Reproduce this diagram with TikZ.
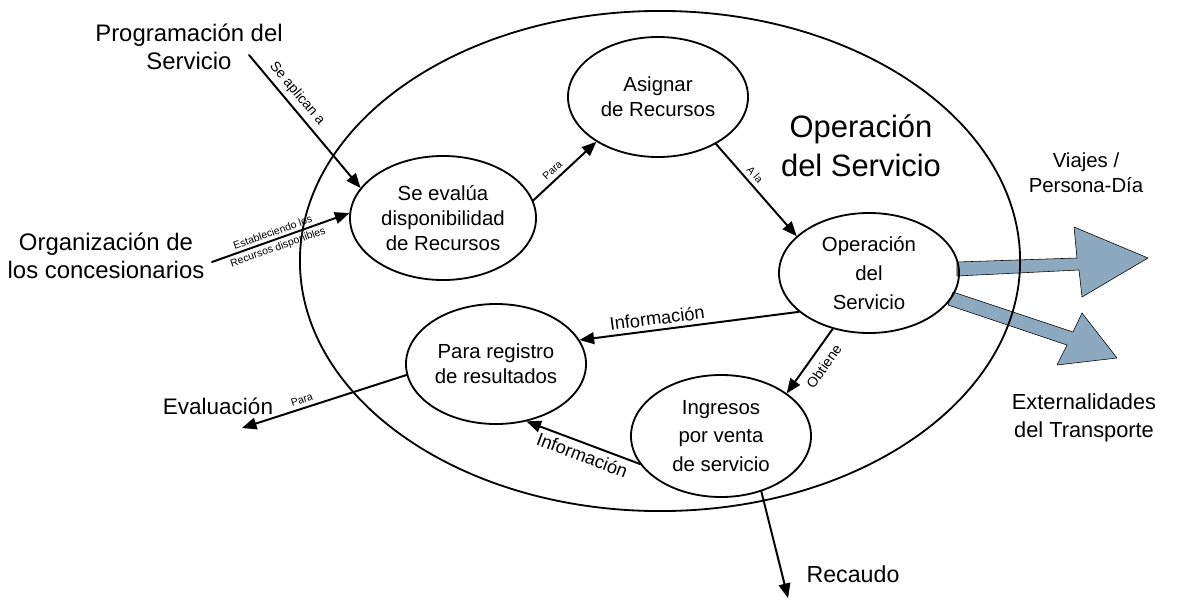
\documentclass[tikz,border=0pt]{standalone}
\usepackage{fontspec}
\setmainfont{Liberation Sans}
\usepackage{tikz}
\usetikzlibrary{arrows}
\usetikzlibrary{shapes.geometric}
\definecolor{ggaabb}{rgb}{0.553,0.663,0.749}
\tikzstyle{every node}=[font=\fontsize{14.5}{18}\selectfont]

\begin{document}
\begin{tikzpicture}[line cap=round,line join=round,>=triangle 45,x=0.025cm,y=-0.025cm,
    elipse/.style={ellipse,draw,line width=1.3pt,align=center,inner sep=0pt,minimum width=4.5cm,minimum height=3cm},
    flecha/.style={->,line width=1.4pt},
    etiqueta/.style={font=\fontsize{7.5}{8}\selectfont,midway,sloped,inner sep=3pt}]
    \useasboundingbox (0,0) rectangle (1190,605);
    % flechas anchas
    \filldraw[fill=ggaabb,draw=black,line width=0.4pt] (957,262) -- (1077,258) -- (1074,227) -- (1148,258) -- (1082,297) -- (1079,270) -- (957,276) -- cycle;
    \filldraw[fill=ggaabb,draw=black,line width=0.4pt] (953,292) -- (1073,332) -- (1082,313) -- (1117,358) -- (1057,365) -- (1067,345) -- (948,305) -- cycle;
    % elipse grande
    \draw[line width=1.3pt] (660,261) ellipse [x radius=9cm,y radius=6.25cm];
    \node[align=center,font=\fontsize{22}{28}\selectfont] (titulo) at (861,146) {Operación\\del Servicio};
    % procesos
    \node[elipse,minimum width=4.65cm,minimum height=3.1cm] (evalua) at (443,218) {Se evalúa\\disponibilidad\\de Recursos};
    \node[elipse] (asignar) at (658,97) {Asignar\\de Recursos};
    \node[elipse,font=\fontsize{14.5}{20.5}\selectfont] (opserv) at (869,273) {Operación\\del\\Servicio};
    \node[elipse] (registro) at (496,364) {Para registro\\de resultados};
    \node[elipse,font=\fontsize{14.5}{20}\selectfont,minimum height=3.05cm] (ingresos) at (721,436) {Ingresos\\por venta\\de servicio};
    % textos de fuera
    \node[align=center,font=\fontsize{17}{20}\selectfont] (programa) at (189,47) {Programación del\\Servicio};
    \node[align=center,font=\fontsize{17}{20}\selectfont] (organiza) at (106,256) {Organización de\\los concesionarios};
    \node[font=\fontsize{16}{18}\selectfont] (evaluacion) at (218,406) {Evaluación};
    \node[font=\fontsize{16.5}{18}\selectfont] (recaudo) at (853,574) {Recaudo};
    \node[align=center] (viajes) at (1086,173) {Viajes /\\Persona-Día};
    \node[align=center,font=\fontsize{15.5}{19.5}\selectfont] (externa) at (1084,418) {Externalidades\\del Transporte};
    \coordinate (inicio1) at (249,55);
    \coordinate (inicio2) at (212,262);
    \coordinate (fin1) at (242,428);
    \coordinate (fin2) at (788,598);
    % conectores
    \draw[flecha] (inicio1) -- (evalua.160) node[etiqueta,above,pos=0.35,font=\fontsize{10}{12}\selectfont] {Se aplican a};
    \draw[flecha] (inicio2) -- (evalua.177) node[etiqueta,above,pos=0.46,inner sep=2pt] {Estableciendo los} node[etiqueta,below,pos=0.46,inner sep=2pt] {Recursos disponibles};
    \draw[flecha] (evalua.11) -- (asignar.216) node[etiqueta,above,pos=0.4] {Para};
    \draw[flecha] (asignar.321) -- (opserv.153) node[etiqueta,above,pos=0.4] {A la};
    \draw[flecha] (opserv.209) -- (registro.16) node[etiqueta,above,pos=0.64,font=\fontsize{13}{14}\selectfont] {Información};
    \draw[flecha] (opserv.237) -- (ingresos.33) node[etiqueta,below,pos=0.45,inner sep=6pt,font=\fontsize{10}{12}\selectfont] {Obtiene};
    \draw[flecha] (ingresos.199) -- (registro.298) node[etiqueta,below,pos=0.47,font=\fontsize{13}{14}\selectfont] {Información};
    \draw[flecha] (registro.187) -- (fin1) node[etiqueta,above,pos=0.62] {Para};
    \draw[flecha] (ingresos.306) -- (fin2);
\end{tikzpicture}
\end{document}
